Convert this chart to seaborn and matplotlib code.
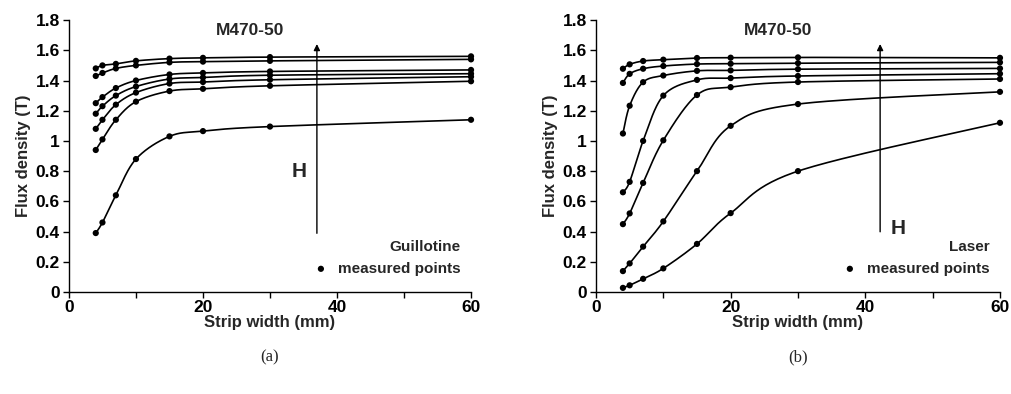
# Flux density vs strip width, guillotine (a) and laser (b) cut M470-50
import numpy as np
import pandas as pd
import matplotlib.pyplot as plt
import seaborn as sns
from matplotlib.ticker import MultipleLocator, FuncFormatter

# Strip widths (mm) where measurements were taken
widths = [4, 5, 7, 10, 15, 20, 30, 60]

# Guillotine cut, one curve per field strength H (low to high)
guillotine_h1 = [0.39, 0.46, 0.64, 0.88, 1.03, 1.065, 1.095, 1.14]
guillotine_h2 = [0.94, 1.01, 1.14, 1.26, 1.33, 1.345, 1.365, 1.395]
guillotine_h3 = [1.08, 1.14, 1.24, 1.32, 1.38, 1.39, 1.405, 1.425]
guillotine_h4 = [1.18, 1.23, 1.30, 1.36, 1.41, 1.42, 1.435, 1.445]
guillotine_h5 = [1.25, 1.29, 1.35, 1.40, 1.44, 1.45, 1.46, 1.47]
guillotine_h6 = [1.43, 1.45, 1.48, 1.50, 1.52, 1.525, 1.53, 1.54]
guillotine_h7 = [1.48, 1.50, 1.51, 1.53, 1.545, 1.55, 1.555, 1.56]

# Laser cut
laser_h1 = [0.027, 0.044, 0.087, 0.156, 0.318, 0.522, 0.80, 1.12]
laser_h2 = [0.138, 0.189, 0.30, 0.467, 0.80, 1.10, 1.244, 1.325]
laser_h3 = [0.449, 0.52, 0.722, 1.004, 1.304, 1.356, 1.39, 1.41]
laser_h4 = [0.66, 0.729, 1.0, 1.30, 1.404, 1.416, 1.43, 1.445]
laser_h5 = [1.049, 1.233, 1.389, 1.433, 1.464, 1.467, 1.475, 1.48]
laser_h6 = [1.384, 1.444, 1.478, 1.496, 1.509, 1.511, 1.515, 1.52]
laser_h7 = [1.478, 1.507, 1.529, 1.538, 1.549, 1.551, 1.553, 1.55]

guillotine = [guillotine_h1, guillotine_h2, guillotine_h3, guillotine_h4,
              guillotine_h5, guillotine_h6, guillotine_h7]
laser = [laser_h1, laser_h2, laser_h3, laser_h4, laser_h5, laser_h6, laser_h7]


def smooth(xs, ys, n=30):
    # Catmull-Rom style bezier through the points (like a spreadsheet "smoothed line")
    p = np.column_stack([xs, ys]).astype(float)
    p = np.vstack([p[0], p, p[-1]])
    t = np.linspace(0, 1, n)[:, None]
    out = []
    for i in range(1, len(p) - 2):
        p0, p1, p2, p3 = p[i - 1], p[i], p[i + 1], p[i + 2]
        c1 = p1 + (p2 - p0) / 6
        c2 = p2 - (p3 - p1) / 6
        seg = ((1 - t) ** 3) * p1 + 3 * ((1 - t) ** 2) * t * c1 + 3 * (1 - t) * t ** 2 * c2 + t ** 3 * p2
        out.append(seg if i == 1 else seg[1:])
    return np.vstack(out)


def build_frames(curves):
    pts, lines = [], []
    for k, ys in enumerate(curves):
        pts.append(pd.DataFrame({'width': widths, 'B': ys, 'curve': k}))
        s = smooth(widths, ys)
        lines.append(pd.DataFrame({'width': s[:, 0], 'B': s[:, 1], 'curve': k}))
    return pd.concat(pts), pd.concat(lines)


sns.set_style('ticks')
plt.rcParams['font.family'] = ['Liberation Sans', 'DejaVu Sans']
plt.rcParams['font.weight'] = 'bold'
plt.rcParams['axes.labelweight'] = 'bold'

fig = plt.figure(figsize=(10.11, 3.94), dpi=100)
ax_a = fig.add_axes([0.0682, 0.259, 0.3977, 0.690])
ax_b = fig.add_axes([0.5895, 0.259, 0.3996, 0.690])

panels = [
    (ax_a, guillotine, 'Guillotine', (37, 0.37), (34.4, 0.80), '(a)', 0.267),
    (ax_b, laser, 'Laser', (42.2, 0.38), (44.8, 0.42), '(b)', 0.789),
]

for ax, curves, cut, arrow_base, h_pos, caption, cap_x in panels:
    pts, lines = build_frames(curves)
    sns.lineplot(data=lines, x='width', y='B', units='curve', estimator=None,
                 sort=False, color='black', linewidth=1.2, ax=ax, legend=False)
    sns.scatterplot(data=pts, x='width', y='B', color='black', s=20,
                    edgecolor='none', label='measured points', ax=ax, clip_on=False, zorder=3)

    ax.set_xlim(0, 60)
    ax.set_ylim(0, 1.8)
    ax.xaxis.set_major_locator(MultipleLocator(20))
    ax.xaxis.set_minor_locator(MultipleLocator(10))
    ax.yaxis.set_major_locator(MultipleLocator(0.2))
    ax.yaxis.set_major_formatter(FuncFormatter(lambda v, _: '%g' % round(v, 1)))
    ax.tick_params(which='both', direction='out', length=4, width=1, colors='black', labelsize=12.5)
    ax.tick_params(axis='x', pad=1.5)
    ax.tick_params(axis='y', pad=2.5)
    for lab in ax.get_xticklabels() + ax.get_yticklabels():
        lab.set_fontweight('bold')
    sns.despine(ax=ax)
    for sp in ('left', 'bottom'):
        ax.spines[sp].set_linewidth(1)
        ax.spines[sp].set_color('black')

    ax.set_xlabel('Strip width (mm)', fontsize=12, fontweight='bold', labelpad=0)
    ax.set_ylabel('Flux density (T)', fontsize=12, fontweight='bold', labelpad=3)

    ax.text(27, 1.73, 'M470-50', ha='center', va='center', fontsize=12.5, fontweight='bold')
    ax.annotate('', xy=(arrow_base[0], 1.66), xytext=arrow_base,
                arrowprops=dict(arrowstyle='-|>', color='black', lw=1, mutation_scale=9))
    ax.text(h_pos[0], h_pos[1], 'H', ha='center', va='center', fontsize=15, fontweight='bold')

    leg = ax.legend(loc='lower right', bbox_to_anchor=(1.0, 0.02), frameon=False,
                    title=cut, alignment='right', handletextpad=0.1, borderpad=0.2,
                    prop={'weight': 'bold', 'size': 11},
                    title_fontproperties={'weight': 'bold', 'size': 11})

    fig.text(cap_x, 0.094, caption, ha='center', va='center', fontsize=12,
             family=['Liberation Serif', 'DejaVu Serif'], fontweight='normal')

fig.savefig('out.png', dpi=100)
